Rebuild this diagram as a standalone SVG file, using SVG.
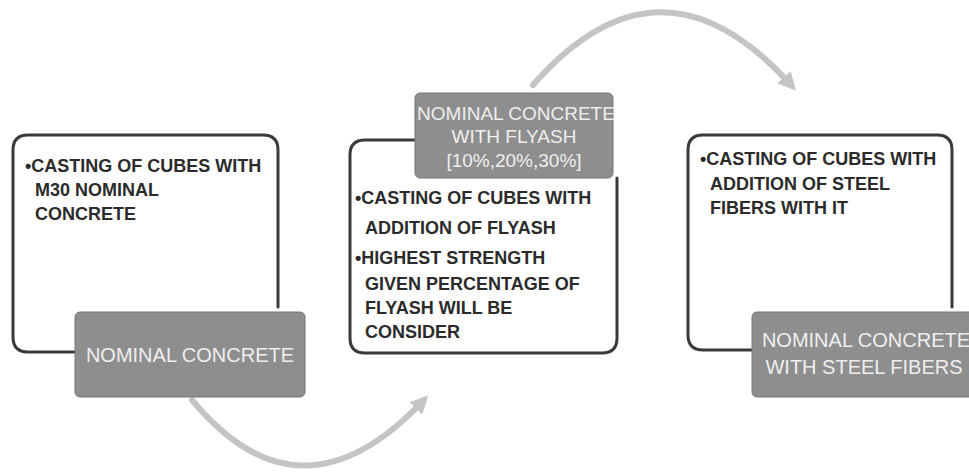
<svg xmlns="http://www.w3.org/2000/svg" width="969" height="473" viewBox="0 0 969 473">
<defs>
<style>
.frame{fill:none;stroke:#3a3a3a;stroke-width:3;stroke-linecap:round}
.label{fill:#8e8e8e;stroke:#777;stroke-width:1}
.lt{font-family:"Liberation Sans",Arial,sans-serif;font-size:20px;fill:#eeeeee;text-anchor:middle}
.bt{font-family:"Liberation Sans",Arial,sans-serif;font-size:18px;font-weight:bold;fill:#2b2b2b}
.arc{fill:none;stroke:#c4c4c4;stroke-width:6;stroke-linecap:round}
</style>
<marker id="ah" viewBox="0 0 10 10" refX="5" refY="5" markerWidth="3" markerHeight="3" orient="auto" markerUnits="strokeWidth">
<path d="M0,0 L10,5 L0,10 z" fill="#c4c4c4"/>
</marker>
</defs>
<rect width="969" height="473" fill="#ffffff"/>
<g id="connectors">
<path class="arc" d="M192,400 Q300,530 422,402" marker-end="url(#ah)"/>
<path class="arc" d="M533,85 Q660,-60 790,84" marker-end="url(#ah)"/>
</g>
<g id="node1">
<path class="frame" d="M75,352 L28,352 Q13,352 13,337 L13,150 Q13,135 28,135 L263,135 Q278,135 278,150 L278,307"/>
<text class="bt" x="25" y="172">•CASTING OF CUBES WITH</text>
<text class="bt" x="35" y="196">M30 NOMINAL</text>
<text class="bt" x="35" y="220">CONCRETE</text>
<rect class="label" x="75" y="312" width="230" height="85" rx="5"/>
<text class="lt" x="190" y="362">NOMINAL CONCRETE</text>
</g>
<g id="node2">
<path class="frame" d="M415,140 L365,140 Q350,140 350,155 L350,338 Q350,353 365,353 L602,353 Q617,353 617,338 L617,178"/>
<rect class="label" x="415" y="93" width="198" height="85" rx="5"/>
<text class="lt" x="516" y="120" style="font-size:19px">NOMINAL CONCRETE</text>
<text class="lt" x="514" y="143" style="font-size:19px">WITH FLYASH</text>
<text class="lt" x="514" y="167" style="font-size:19px">[10%,20%,30%]</text>
<text class="bt" x="355" y="204">•CASTING OF CUBES WITH</text>
<text class="bt" x="365" y="234">ADDITION OF FLYASH</text>
<text class="bt" x="355" y="264">•HIGHEST STRENGTH</text>
<text class="bt" x="365" y="290">GIVEN PERCENTAGE OF</text>
<text class="bt" x="365" y="314">FLYASH WILL BE</text>
<text class="bt" x="365" y="338">CONSIDER</text>
</g>
<g id="node3">
<path class="frame" d="M952,307 L952,150 Q952,135 937,135 L703,135 Q688,135 688,150 L688,335 Q688,350 703,350 L752,350"/>
<text class="bt" x="700" y="165">•CASTING OF CUBES  WITH</text>
<text class="bt" x="710" y="190">ADDITION OF STEEL</text>
<text class="bt" x="710" y="214">FIBERS WITH IT</text>
<rect class="label" x="752" y="312" width="230" height="85" rx="5"/>
<text class="lt" x="866" y="347">NOMINAL CONCRETE</text>
<text class="lt" x="864" y="374">WITH STEEL FIBERS</text>
</g>
</svg>
